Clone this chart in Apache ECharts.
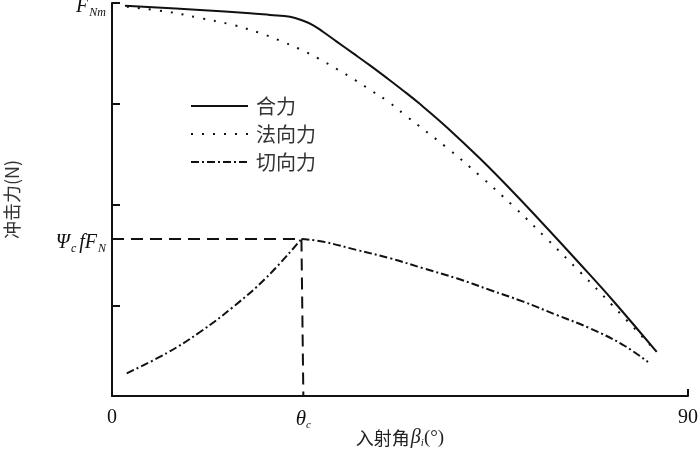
<!DOCTYPE html>
<html>
<head>
<meta charset="utf-8">
<script src="https://cdn.jsdelivr.net/npm/echarts@6/dist/echarts.min.js"></script>
<style>html,body{margin:0;padding:0;background:#fff}#c{width:700px;height:457px}</style>
</head>
<body>
<div id="c"></div>
<script>
// ---- data (x: incidence angle in degrees, y: impact force in relative units) ----
var thetaC = 29.6;
var thetaCBase = 29.9;
var psiLevel = 1.558;
var yTicks = [0.9, 1.9, 2.9, 3.9];
var xTicks = [90];
var xLabelValues = [0, 29.9, 90];
var resultantX = [2.03, 13.75, 21.56, 24.69, 27.81, 29.89, 31.45, 33.02, 35.11, 37.70, 40.31, 42.92, 45.52, 48.13, 52.30, 57.50, 62.70, 67.92, 73.13, 78.33, 85.11];
var resultantY = [3.873, 3.831, 3.798, 3.781, 3.764, 3.724, 3.679, 3.612, 3.517, 3.400, 3.281, 3.157, 3.030, 2.897, 2.668, 2.356, 2.022, 1.670, 1.310, 0.943, 0.437];
var normalX = [2.34, 8.59, 13.75, 18.91, 23.13, 26.25, 29.38, 32.23, 35.11, 37.97, 40.58, 43.17, 45.78, 52.34, 57.50, 62.66, 67.97, 73.13, 78.28, 84.38];
var normalY = [3.863, 3.814, 3.751, 3.682, 3.602, 3.526, 3.441, 3.351, 3.245, 3.136, 3.028, 2.921, 2.788, 2.463, 2.184, 1.887, 1.558, 1.231, 0.894, 0.487];
var tangUpX = [2.30, 8.59, 13.75, 18.91, 24.22, 29.6];
var tangUpY = [0.225, 0.427, 0.635, 0.883, 1.181, 1.558];
var tangDownX = [29.6, 33.02, 38.23, 43.44, 48.64, 53.86, 59.06, 64.27, 69.48, 74.69, 79.89, 83.75];
var tangDownY = [1.558, 1.531, 1.449, 1.367, 1.267, 1.168, 1.052, 0.936, 0.804, 0.672, 0.506, 0.337];
var refX = [0, thetaC, thetaCBase];
var refY = [psiLevel, psiLevel, 0];
var names = ['合力', '法向力', '切向力'];

function zip(a, b) { return a.map(function (v, i) { return [v, b[i]]; }); }

var serif = '"Liberation Serif", "DejaVu Serif", serif';
var cjk = '"Noto Sans CJK SC", sans-serif';
var ink = '#111';
var dashDot = [8, 3, 2, 3];

var chart = echarts.init(document.getElementById('c'), null, {renderer: 'canvas'});
chart.setOption({
  animation: false,
  backgroundColor: '#fff',
  color: [ink, ink, ink, ink, ink],
  grid: {left: 112, right: 12, top: 3, bottom: 61, containLabel: false, outerBoundsMode: 'none'},
  legend: {
    data: names,
    orient: 'vertical',
    left: 190,
    top: 96,
    padding: 0,
    itemWidth: 57,
    itemHeight: 14,
    itemGap: 8,
    itemStyle: {opacity: 0},
    textStyle: {fontFamily: cjk, fontSize: 20, color: '#333', padding: [0, 0, 0, 3]},
    selectedMode: false
  },
  xAxis: {
    type: 'value',
    min: 0,
    max: 90,
    axisLine: {lineStyle: {color: ink, width: 2}},
    splitLine: {show: false},
    axisTick: {show: true, inside: true, length: 7, customValues: xTicks, lineStyle: {color: ink, width: 2}},
    axisLabel: {
      customValues: xLabelValues,
      margin: 12,
      formatter: function (v) {
        if (v === 0) return '{n|0}';
        if (v === 90) return '{n|90}';
        return '{it|θ}{sub|c}';
      },
      rich: {
        n: {fontFamily: serif, fontSize: 20, color: ink},
        it: {fontFamily: serif, fontSize: 21, fontStyle: 'italic', color: ink},
        sub: {fontFamily: serif, fontSize: 11, fontStyle: 'italic', color: ink, padding: [12, 0, 0, 0]}
      }
    },
    name: '{c|入射角}{it|β}{sub|i}{n|(°)}',
    nameLocation: 'middle',
    nameGap: 42,
    nameMoveOverlap: false,
    nameTextStyle: {
      verticalAlign: 'middle',
      rich: {
        c: {fontFamily: cjk, fontSize: 18, color: '#222', padding: [0, 1, 0, 0]},
        it: {fontFamily: serif, fontSize: 20, fontStyle: 'italic', color: '#222'},
        sub: {fontFamily: serif, fontSize: 11, fontStyle: 'italic', color: '#222', padding: [10, 0, 0, 0]},
        n: {fontFamily: serif, fontSize: 19, color: '#222'}
      }
    }
  },
  yAxis: {
    type: 'value',
    min: 0,
    max: 3.9,
    axisLine: {show: true, lineStyle: {color: ink, width: 2}},
    splitLine: {show: false},
    axisTick: {show: true, inside: true, length: 8, customValues: yTicks, lineStyle: {color: ink, width: 2}},
    axisLabel: {
      customValues: [psiLevel, 3.9],
      margin: 5,
      formatter: function (v) {
        if (v > 3) return '{it|F}{sub|Nm}';
        return '{it|Ψ}{sub|c}{sp| }{it|fF}{sub|N}';
      },
      rich: {
        it: {fontFamily: serif, fontSize: 20, fontStyle: 'italic', color: ink, padding: [8, 0, 0, 0]},
        sub: {fontFamily: serif, fontSize: 12, fontStyle: 'italic', color: ink, padding: [20, 1, 0, 1]},
        sp: {fontFamily: serif, fontSize: 8}
      }
    },
    name: '冲击力(N)',
    nameLocation: 'middle',
    nameGap: 100,
    nameMoveOverlap: false,
    nameTextStyle: {fontFamily: cjk, fontSize: 18, color: '#333', verticalAlign: 'middle'}
  },
  series: [
    {
      name: names[0], type: 'line', data: zip(resultantX, resultantY), smooth: 0.4,
      symbol: 'none', itemStyle: {color: ink}, lineStyle: {color: ink, width: 2, type: 'solid'}
    },
    {
      name: names[1], type: 'line', data: zip(normalX, normalY), smooth: 0.4,
      symbol: 'none', itemStyle: {color: ink}, lineStyle: {color: ink, width: 2, type: [2, 9], cap: 'butt'}
    },
    {
      name: names[2], type: 'line', data: zip(tangUpX, tangUpY), smooth: 0.4,
      symbol: 'none', itemStyle: {color: ink}, lineStyle: {color: ink, width: 2, type: dashDot}
    },
    {
      name: names[2], type: 'line', data: zip(tangDownX, tangDownY), smooth: 0.4,
      symbol: 'none', itemStyle: {color: ink}, lineStyle: {color: ink, width: 2, type: dashDot}
    },
    {
      name: 'ref', type: 'line', data: zip(refX, refY), smooth: false,
      symbol: 'none', itemStyle: {color: ink}, lineStyle: {color: ink, width: 2, type: [12, 7]}
    }
  ]
});
</script>
</body>
</html>
